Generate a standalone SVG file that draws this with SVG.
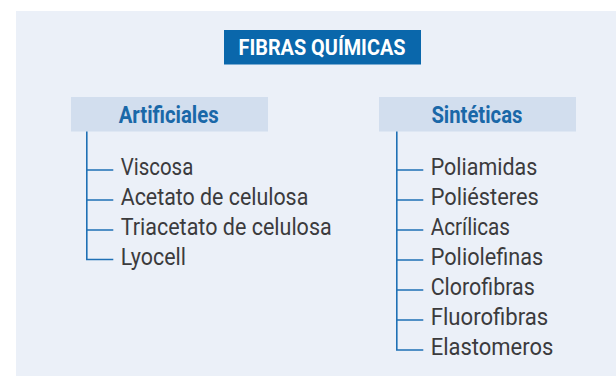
<svg xmlns="http://www.w3.org/2000/svg" width="616" height="376" viewBox="0 0 616 376">
<style>
.panel{fill:#ebf0f8}
.title-box{fill:#0a67ab}
.title{font-family:Roboto,"Liberation Sans",sans-serif;font-weight:700;font-size:22.5px;fill:#ffffff}
.head-box{fill:#d2deee}
.head{font-family:Roboto,"Liberation Sans",sans-serif;font-weight:700;font-size:23.5px;fill:#1a68a8}
.item{font-family:Roboto,"Liberation Sans",sans-serif;font-weight:400;font-size:23px;fill:#3b3b3d}
.conn{fill:none;stroke:#1f70b5;stroke-width:1.6}
</style>
<rect class="panel" x="16" y="11" width="600" height="365"/>
<g id="title">
<rect class="title-box" x="224" y="30" width="197" height="34.5"/>
<text class="title" x="238.5" y="55" textLength="167" lengthAdjust="spacingAndGlyphs">FIBRAS QUÍMICAS</text>
</g>
<g id="artificiales">
<rect class="head-box" x="71" y="97" width="197" height="34.5"/>
<text class="head" x="118.7" y="122.7" textLength="100" lengthAdjust="spacingAndGlyphs">Artificiales</text>
</g>
<g id="sinteticas">
<rect class="head-box" x="379" y="97" width="197" height="34.5"/>
<text class="head" x="431.4" y="122.7" textLength="91" lengthAdjust="spacingAndGlyphs">Sintéticas</text>
</g>
<g id="connectors">
<path class="conn" d="M86.8 131.5V259.5H113.3M86.8 170H113.3M86.8 200H113.3M86.8 230H113.3"/>
<path class="conn" d="M396.8 131.5V350H423.3M396.8 170H423.3M396.8 200H423.3M396.8 230H423.3M396.8 260H423.3M396.8 290H423.3M396.8 320H423.3"/>
</g>
<g id="viscosa"><text class="item" x="120.7" y="175" textLength="72.6" lengthAdjust="spacingAndGlyphs">Viscosa</text></g>
<g id="acetato"><text class="item" x="120.7" y="205" textLength="187.6" lengthAdjust="spacingAndGlyphs">Acetato de celulosa</text></g>
<g id="triacetato"><text class="item" x="120.7" y="235" textLength="211" lengthAdjust="spacingAndGlyphs">Triacetato de celulosa</text></g>
<g id="lyocell"><text class="item" x="120.7" y="264.5" textLength="65.3" lengthAdjust="spacingAndGlyphs">Lyocell</text></g>
<g id="poliamidas"><text class="item" x="430.7" y="175" textLength="106.6" lengthAdjust="spacingAndGlyphs">Poliamidas</text></g>
<g id="poliesteres"><text class="item" x="430.7" y="205" textLength="108" lengthAdjust="spacingAndGlyphs">Poliésteres</text></g>
<g id="acrilicas"><text class="item" x="430.7" y="235" textLength="79.3" lengthAdjust="spacingAndGlyphs">Acrílicas</text></g>
<g id="poliolefinas"><text class="item" x="430.7" y="265" textLength="112.6" lengthAdjust="spacingAndGlyphs">Poliolefinas</text></g>
<g id="clorofibras"><text class="item" x="430.7" y="295" textLength="104" lengthAdjust="spacingAndGlyphs">Clorofibras</text></g>
<g id="fluorofibras"><text class="item" x="430.7" y="325" textLength="117.6" lengthAdjust="spacingAndGlyphs">Fluorofibras</text></g>
<g id="elastomeros"><text class="item" x="430.7" y="355" textLength="122.6" lengthAdjust="spacingAndGlyphs">Elastomeros</text></g>
</svg>
